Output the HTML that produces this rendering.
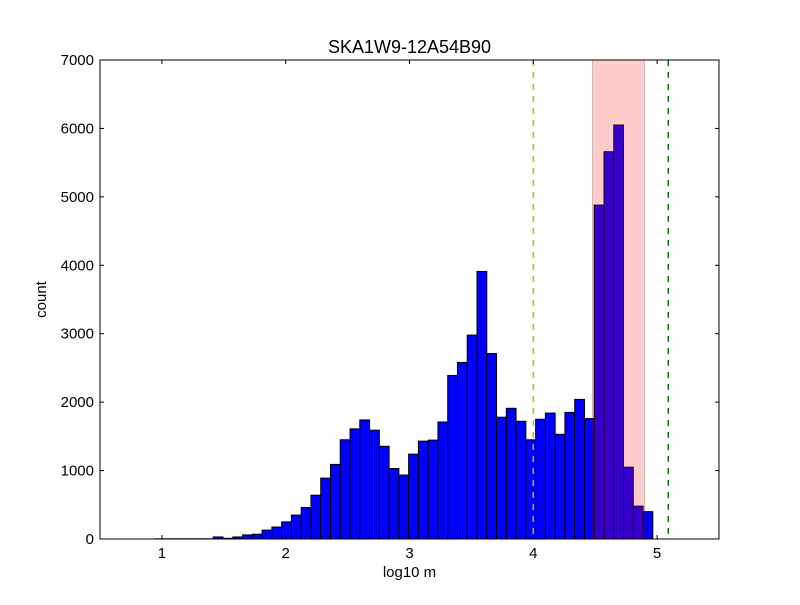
<!DOCTYPE html>
<html><head><meta charset="utf-8"><style>body{margin:0;background:#fff}svg{font-family:"Liberation Sans","DejaVu Sans",sans-serif}</style></head>
<body>
<svg id="chart" width="800" height="600" xmlns="http://www.w3.org/2000/svg"></svg>
<script>
const binStart = 1.0;
const binWidth = 0.0789;
const counts = [3,3,3,3,3,3,30,10,30,60,70,130,175,250,350,460,640,890,1090,1450,1610,1740,1590,1355,1030,935,1240,1430,1445,1710,2390,2580,2980,3910,2710,1780,1910,1720,1450,1750,1840,1530,1850,2040,1760,4880,5660,6050,1050,480,400];
const xTicks = [1,2,3,4,5];
const yTicks = [0,1000,2000,3000,4000,5000,6000,7000];
const spanRange = [4.478, 4.90];
const yellowLine = 4.0;
const greenLine = 5.09;

const L=100,R=719,T=60,B=539, xmin=0.5,xmax=5.5,ymax=7000;
const sx=v=>L+(v-xmin)/(xmax-xmin)*(R-L);
const sy=v=>B-v/ymax*(B-T);
const svg=document.getElementById('chart');
const NS='http://www.w3.org/2000/svg';
function mk(tag,attrs,parent){const e=document.createElementNS(NS,tag);for(const k in attrs)e.setAttribute(k,attrs[k]);(parent||svg).appendChild(e);return e;}
// bars
const g=mk('g',{});


// fix binStart so the first visible bars align
const start = 1.415 - 6*binWidth;
counts.forEach((c,i)=>{
  const x0=sx(start+i*binWidth), x1=sx(start+(i+1)*binWidth);
  const r=mk('rect',{x:x0,y:sy(c),width:x1-x0,height:B-sy(c),fill:'#0000ff',stroke:'#000','stroke-width':1},g);
  
  
});
// span
const sp=mk('rect',{x:sx(spanRange[0]),y:T,width:sx(spanRange[1])-sx(spanRange[0]),height:B-T,fill:'rgba(255,0,0,0.2)',stroke:'rgba(0,0,0,0.2)','stroke-width':1});


const yl=mk('line',{x1:sx(yellowLine),x2:sx(yellowLine),y1:T,y2:B,stroke:'#bfbf00','stroke-width':1.5,'stroke-dasharray':'6,6'});


const gl=mk('line',{x1:sx(greenLine),x2:sx(greenLine),y1:T,y2:B,stroke:'#008000','stroke-width':1.5,'stroke-dasharray':'6,6'});


// frame
const fr=mk('rect',{x:L,y:T,width:R-L,height:B-T,fill:'none',stroke:'#000','stroke-width':1});


xTicks.forEach(v=>{
  const x=sx(v);
  mk('line',{x1:x,x2:x,y1:B,y2:B-4,stroke:'#000'});
  mk('line',{x1:x,x2:x,y1:T,y2:T+4,stroke:'#000'});
  const t=mk('text',{x:x,y:B+19,'text-anchor':'middle','font-size':15});t.textContent=v;
  
  
});
yTicks.forEach(v=>{
  const y=sy(v);
  mk('line',{x1:L,x2:L+4,y1:y,y2:y,stroke:'#000'});
  mk('line',{x1:R,x2:R-4,y1:y,y2:y,stroke:'#000'});
  const t=mk('text',{x:L-6,y:y+5,'text-anchor':'end','font-size':15});t.textContent=v;
  
  
});
const ti=mk('text',{x:(L+R)/2,y:53,'text-anchor':'middle','font-size':18});ti.textContent='SKA1W9-12A54B90';


const xt=mk('text',{x:(L+R)/2,y:577,'text-anchor':'middle','font-size':15});xt.textContent='log10 m';


const yt=mk('text',{x:46,y:(T+B)/2,'text-anchor':'middle','font-size':15,transform:'rotate(-90 46 '+((T+B)/2)+')'});yt.textContent='count';


</script>
</body></html>
